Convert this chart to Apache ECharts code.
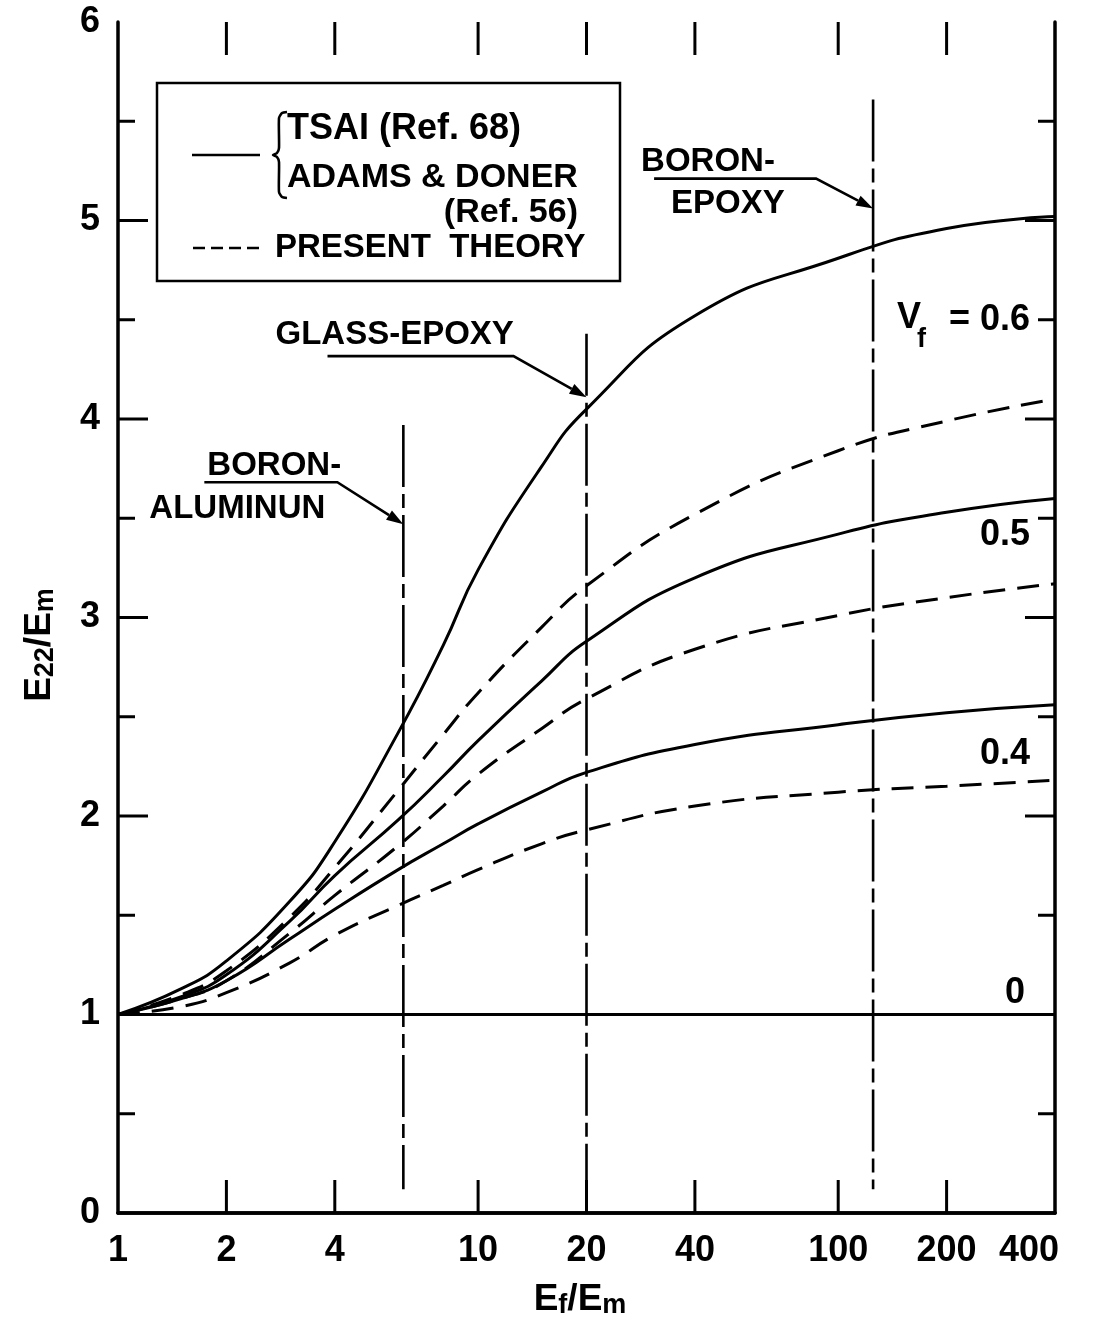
<!DOCTYPE html>
<html><head><meta charset="utf-8">
<script src="https://cdn.jsdelivr.net/npm/echarts@6/dist/echarts.min.js"></script>
<style>html,body{margin:0;padding:0;background:#fff}#c{width:1112px;height:1328px}</style>
</head><body><div id="c"></div>
<script>
// ---- data ----
const ratio    = [1, 1.5, 2, 3, 4, 6, 8, 10, 15, 20, 40, 100, 200, 400];
const tsai06   = [1.00, 1.13, 1.27, 1.57, 1.87, 2.42, 2.86, 3.24, 3.76, 4.05, 4.52, 4.81, 4.96, 5.02];
const theory06 = [1.00, 1.10, 1.22, 1.49, 1.74, 2.13, 2.41, 2.62, 2.95, 3.16, 3.52, 3.84, 3.99, 4.10];
const tsai05   = [1.00, 1.09, 1.20, 1.47, 1.70, 1.98, 2.20, 2.38, 2.68, 2.88, 3.20, 3.42, 3.53, 3.60];
const theory05 = [1.00, 1.08, 1.17, 1.41, 1.60, 1.85, 2.05, 2.21, 2.44, 2.59, 2.84, 3.01, 3.10, 3.17];
const tsai04   = [1.00, 1.08, 1.17, 1.38, 1.53, 1.73, 1.86, 1.96, 2.12, 2.22, 2.36, 2.46, 2.52, 2.56];
const theory04 = [1.00, 1.04, 1.11, 1.26, 1.40, 1.55, 1.65, 1.73, 1.86, 1.93, 2.05, 2.12, 2.15, 2.18];
const vf0      = [1.00, 1.00, 1.00, 1.00, 1.00, 1.00, 1.00, 1.00, 1.00, 1.00, 1.00, 1.00, 1.00, 1.00];

const xTickValues = [2, 4, 10, 20, 40, 100, 200];
const xTickLabels = [1, 2, 4, 10, 20, 40, 100, 200, 400];
const yTickValues = [0.5, 1, 1.5, 2, 2.5, 3, 3.5, 4, 4.5, 5, 5.5];

const materialNames  = [['BORON-', 'ALUMINUN'], ['GLASS-EPOXY'], ['BORON-', 'EPOXY']];
const materialRatio  = [6.2, 20, 125];
const materialTop    = [3.97, 4.43, 5.61];
const materialBottom = [0.12, 0.12, 0.12];
const arrowTipE22    = [3.47, 4.11, 5.06];

// ---- layout / style ----
const FONT = '"Liberation Sans", Arial, sans-serif';
const annotLayout = [
  { underline: [[-199, -42], [-66, -42]], text: [[-196, -58], [-254, -15]] },
  { underline: [[-259, -41], [-73, -41]], text: [[-311, -62]] },
  { underline: [[-219, -30], [-57, -30]], text: [[-232, -47], [-202, -5]] }
];

const chart = echarts.init(document.getElementById('c'), null, { renderer: 'canvas' });

function pairs(ys) { return ratio.map((x, i) => [x, ys[i]]); }
const solidStyle = { color: '#000', width: 3, type: 'solid' };
const dashStyle = { color: '#000', width: 3, type: [22, 12] };
function curve(name, ys, style) {
  return { name, type: 'line', data: pairs(ys), smooth: 0.5,
    showSymbol: false, symbol: 'none', lineStyle: style, silent: true, z: 3 };
}

const axisLineStyle = { show: true, lineStyle: { color: '#000', width: 3.5 } };
const subRich = {
  a: { fontSize: 37, fontWeight: 'bold', fontFamily: FONT, fill: '#000', lineHeight: 38, verticalAlign: 'top' },
  b: { fontSize: 27, fontWeight: 'bold', fontFamily: FONT, fill: '#000', lineHeight: 27, padding: [28, 0, 0, 0], verticalAlign: 'bottom' }
};

const option = {
  animation: false,
  backgroundColor: '#fff',
  grid: { left: 118, right: 57, top: 22, bottom: 115, containLabel: false },
  xAxis: [
    { type: 'log', logBase: 10, min: 1, max: 400, position: 'bottom', axisLine: axisLineStyle,
      axisTick: { show: false }, axisLabel: { show: false }, splitLine: { show: false }, minorTick: { show: false } },
    { type: 'log', logBase: 10, min: 1, max: 400, position: 'top', axisLine: axisLineStyle,
      axisTick: { show: false }, axisLabel: { show: false }, splitLine: { show: false } }
  ],
  yAxis: [
    { type: 'value', min: 0, max: 6, interval: 1, position: 'left', axisLine: axisLineStyle,
      axisTick: { show: false }, splitLine: { show: false },
      axisLabel: { color: '#000', fontSize: 36, fontWeight: 'bold', fontFamily: FONT, margin: 18 } },
    { type: 'value', min: 0, max: 6, interval: 1, position: 'right', axisLine: axisLineStyle,
      axisTick: { show: false }, splitLine: { show: false }, axisLabel: { show: false } }
  ],
  series: [
    curve('Vf=0', vf0, solidStyle),
    curve('Tsai 0.6', tsai06, solidStyle),
    curve('Theory 0.6', theory06, dashStyle),
    curve('Tsai 0.5', tsai05, solidStyle),
    curve('Theory 0.5', theory05, dashStyle),
    curve('Tsai 0.4', tsai04, solidStyle),
    curve('Theory 0.4', theory04, dashStyle),
    // x ticks (bottom and top)
    { type: 'custom', silent: true, z: 5, data: xTickValues.map(v => [v, 0]),
      renderItem(p, api) {
        const b = api.coord([api.value(0), 0]);
        const t = api.coord([api.value(0), 6]);
        const st = { stroke: '#000', lineWidth: 3 };
        return { type: 'group', children: [
          { type: 'line', shape: { x1: b[0], y1: b[1], x2: b[0], y2: b[1] - 33 }, style: st },
          { type: 'line', shape: { x1: t[0], y1: t[1], x2: t[0], y2: t[1] + 33 }, style: st }
        ] };
      } },
    // x tick labels
    { type: 'custom', silent: true, z: 5, data: xTickLabels.map(v => [v, 0]),
      renderItem(p, api) {
        const v = api.value(0);
        const b = api.coord([v, 0]);
        const last = p.dataIndex === xTickLabels.length - 1;
        return { type: 'text', x: last ? b[0] + 4 : b[0], y: b[1] + 38, style: {
          text: String(v), fill: '#000', fontSize: 36, fontWeight: 'bold', fontFamily: FONT,
          align: last ? 'right' : 'center', verticalAlign: 'middle' } };
      } },
    // y ticks (left and right)
    { type: 'custom', silent: true, z: 5, data: yTickValues.map(v => [1, v]),
      renderItem(p, api) {
        const v = api.value(1);
        const l = api.coord([1, v]);
        const r = api.coord([400, v]);
        const len = Number.isInteger(v) ? 30 : 17;
        const st = { stroke: '#000', lineWidth: 3 };
        return { type: 'group', children: [
          { type: 'line', shape: { x1: l[0], y1: l[1], x2: l[0] + len, y2: l[1] }, style: st },
          { type: 'line', shape: { x1: r[0], y1: r[1], x2: r[0] - len, y2: r[1] }, style: st }
        ] };
      } },
    // material vertical lines
    { type: 'custom', silent: true, z: 4, data: materialRatio.map((x, i) => [x, materialTop[i], materialBottom[i]]),
      renderItem(p, api) {
        const t = api.coord([api.value(0), api.value(1)]);
        const b = api.coord([api.value(0), api.value(2)]);
        return { type: 'line', shape: { x1: t[0], y1: t[1], x2: b[0], y2: b[1] },
          style: { stroke: '#000', lineWidth: 2.6, lineDash: [62, 7, 14, 7] } };
      } },
    // annotations with leader arrows
    { type: 'custom', silent: true, z: 6, data: materialRatio.map((x, i) => [x, arrowTipE22[i]]),
      renderItem(p, api) {
        const i = p.dataIndex;
        const tip = api.coord([api.value(0), api.value(1)]);
        const L = annotLayout[i];
        const s = [tip[0] + L.underline[0][0], tip[1] + L.underline[0][1]];
        const e = [tip[0] + L.underline[1][0], tip[1] + L.underline[1][1]];
        const dx = tip[0] - e[0], dy = tip[1] - e[1];
        const d = Math.hypot(dx, dy), ux = dx / d, uy = dy / d;
        const al = 17, aw = 5.5;
        const base = [tip[0] - ux * al, tip[1] - uy * al];
        const kids = [
          { type: 'polyline', shape: { points: [s, e, base] }, style: { stroke: '#000', lineWidth: 2.6, fill: null } },
          { type: 'polygon', shape: { points: [tip, [base[0] - uy * aw, base[1] + ux * aw], [base[0] + uy * aw, base[1] - ux * aw]] },
            style: { fill: '#000' } }
        ];
        materialNames[i].forEach((txt, k) => {
          kids.push({ type: 'text', x: tip[0] + L.text[k][0], y: tip[1] + L.text[k][1], style: {
            text: txt, fill: '#000', fontSize: 33, fontWeight: 'bold', fontFamily: FONT,
            align: 'left', verticalAlign: 'middle' } });
        });
        return { type: 'group', children: kids };
      } }
  ],
  graphic: [
    // legend box
    { type: 'rect', shape: { x: 157, y: 83, width: 463, height: 198 }, style: { fill: '#fff', stroke: '#000', lineWidth: 2.5 }, z: 10 },
    { type: 'line', shape: { x1: 192, y1: 155, x2: 260, y2: 155 }, style: { stroke: '#000', lineWidth: 2.6 }, z: 11 },
    { type: 'polyline', shape: { points: [[287,112],[282,113],[279,118],[279,148],[277,153],[273,155],[277,157],[279,162],[279,192],[282,197],[287,198]], smooth: 0.2 },
      style: { stroke: '#000', lineWidth: 2.6, fill: null }, z: 11 },
    { type: 'text', x: 287, y: 129, style: { text: 'TSAI (Ref. 68)', fill: '#000', fontSize: 36, fontWeight: 'bold', fontFamily: FONT, verticalAlign: 'middle' }, z: 11 },
    { type: 'text', x: 287, y: 178, style: { text: 'ADAMS & DONER', fill: '#000', fontSize: 34, fontWeight: 'bold', fontFamily: FONT, verticalAlign: 'middle' }, z: 11 },
    { type: 'text', x: 578, y: 213, style: { text: '(Ref. 56)', fill: '#000', fontSize: 34, fontWeight: 'bold', fontFamily: FONT, align: 'right', verticalAlign: 'middle' }, z: 11 },
    { type: 'line', shape: { x1: 193, y1: 248, x2: 264, y2: 248 }, style: { stroke: '#000', lineWidth: 2.6, lineDash: [12, 6] }, z: 11 },
    { type: 'text', x: 275, y: 248, style: { text: 'PRESENT  THEORY', fill: '#000', fontSize: 33, fontWeight: 'bold', fontFamily: FONT, verticalAlign: 'middle' }, z: 11 },
    // curve labels
    { type: 'text', x: 897, y: 318, style: { text: 'V', fill: '#000', fontSize: 36, fontWeight: 'bold', fontFamily: FONT, verticalAlign: 'middle' }, z: 11 },
    { type: 'text', x: 917, y: 340, style: { text: 'f', fill: '#000', fontSize: 27, fontWeight: 'bold', fontFamily: FONT, verticalAlign: 'middle' }, z: 11 },
    { type: 'text', x: 1030, y: 320, style: { text: '= 0.6', fill: '#000', fontSize: 36, fontWeight: 'bold', fontFamily: FONT, align: 'right', verticalAlign: 'middle' }, z: 11 },
    { type: 'text', x: 1030, y: 535, style: { text: '0.5', fill: '#000', fontSize: 36, fontWeight: 'bold', fontFamily: FONT, align: 'right', verticalAlign: 'middle' }, z: 11 },
    { type: 'text', x: 1030, y: 754, style: { text: '0.4', fill: '#000', fontSize: 36, fontWeight: 'bold', fontFamily: FONT, align: 'right', verticalAlign: 'middle' }, z: 11 },
    { type: 'text', x: 1025, y: 993, style: { text: '0', fill: '#000', fontSize: 36, fontWeight: 'bold', fontFamily: FONT, align: 'right', verticalAlign: 'middle' }, z: 11 },
    // axis titles
    { type: 'text', x: 580, y: 1300, style: {
        text: '{a|E}{b|f}{a|/E}{b|m}', align: 'center', verticalAlign: 'middle', rich: subRich }, z: 11 },
    { type: 'text', x: 40, y: 645, rotation: Math.PI / 2, style: {
        text: '{a|E}{b|22}{a|/E}{b|m}', align: 'center', verticalAlign: 'middle', rich: subRich }, z: 11 }
  ]
};
chart.setOption(option);
</script>
</body></html>
